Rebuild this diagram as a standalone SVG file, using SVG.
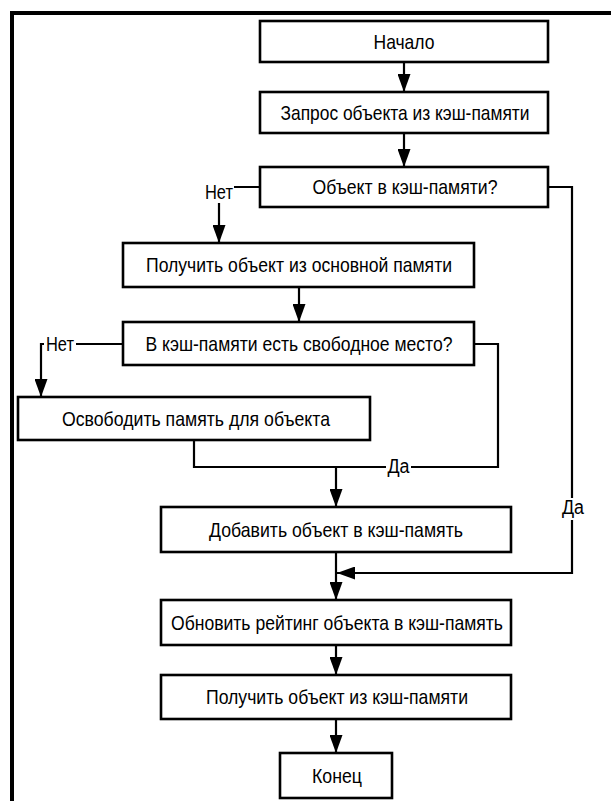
<svg xmlns="http://www.w3.org/2000/svg" width="611" height="801" viewBox="0 0 611 801">
<defs>
<style>
.box{fill:#fff;stroke:#000;stroke-width:2.6}
.t{font-family:"Liberation Sans",Arial,sans-serif;font-size:21px;fill:#000;text-anchor:middle}
.lb{font-family:"Liberation Sans",Arial,sans-serif;font-size:20px;fill:#000;text-anchor:middle}
.ln{fill:none;stroke:#000;stroke-width:2.2}
.bg{fill:#fff;stroke:none}
</style>
<marker id="ah" markerUnits="userSpaceOnUse" markerWidth="18" markerHeight="13" refX="18" refY="6.5" orient="auto">
<path d="M0,0 L18,6.5 L0,13 z" fill="#000"/>
</marker>
</defs>
<rect width="611" height="801" fill="#fff"/>
<path d="M12,801 V13 H611" fill="none" stroke="#000" stroke-width="4"/>
<g id="connectors">
<path class="ln" d="M404,62 V92" marker-end="url(#ah)"/>
<path class="ln" d="M404,133 V167" marker-end="url(#ah)"/>
<path class="ln" d="M260,187 H219 V243" marker-end="url(#ah)"/>
<path class="ln" d="M548,187 H572 V573 H337" marker-end="url(#ah)"/>
<path class="ln" d="M299,287 V322" marker-end="url(#ah)"/>
<path class="ln" d="M123,344 H41 V397" marker-end="url(#ah)"/>
<path class="ln" d="M474,344 H498 V467 H194 V440"/>
<path class="ln" d="M336,467 V507" marker-end="url(#ah)"/>
<path class="ln" d="M336,552 V600" marker-end="url(#ah)"/>
<path class="ln" d="M336,645 V675" marker-end="url(#ah)"/>
<path class="ln" d="M336,719 V753" marker-end="url(#ah)"/>
<rect class="bg" x="204" y="183" width="30" height="20"/>
<text class="lb" x="219" y="199" textLength="28" lengthAdjust="spacingAndGlyphs">Нет</text>
<rect class="bg" x="44" y="335" width="32" height="18"/>
<text class="lb" x="60" y="351" textLength="28" lengthAdjust="spacingAndGlyphs">Нет</text>
<rect class="bg" x="386" y="458" width="25" height="20"/>
<text class="lb" x="398.5" y="473" textLength="22" lengthAdjust="spacingAndGlyphs">Да</text>
<rect class="bg" x="561" y="498" width="24" height="22"/>
<text class="lb" x="573" y="514" textLength="22" lengthAdjust="spacingAndGlyphs">Да</text>
</g>
<g id="n1"><rect class="box" x="260" y="21" width="288" height="41"/><text class="t" x="404" y="49" textLength="61" lengthAdjust="spacingAndGlyphs">Начало</text></g>
<g id="n2"><rect class="box" x="260" y="92" width="288" height="41"/><text class="t" x="405" y="120" textLength="249" lengthAdjust="spacingAndGlyphs">Запрос объекта из кэш-памяти</text></g>
<g id="n3"><rect class="box" x="260" y="167" width="288" height="40"/><text class="t" x="405" y="194" textLength="185" lengthAdjust="spacingAndGlyphs">Объект в кэш-памяти?</text></g>
<g id="n4"><rect class="box" x="123" y="243" width="351" height="44"/><text class="t" x="299" y="272" textLength="306" lengthAdjust="spacingAndGlyphs">Получить объект из основной памяти</text></g>
<g id="n5"><rect class="box" x="123" y="322" width="351" height="43"/><text class="t" x="299" y="351" textLength="307" lengthAdjust="spacingAndGlyphs">В кэш-памяти есть свободное место?</text></g>
<g id="n6"><rect class="box" x="18" y="397" width="352" height="43"/><text class="t" x="196" y="426" textLength="268" lengthAdjust="spacingAndGlyphs">Освободить память для объекта</text></g>
<g id="n7"><rect class="box" x="161" y="507" width="350" height="45"/><text class="t" x="336" y="537" textLength="254" lengthAdjust="spacingAndGlyphs">Добавить объект в кэш-память</text></g>
<g id="n8"><rect class="box" x="161" y="600" width="350" height="45"/><text class="t" x="337" y="630" textLength="332" lengthAdjust="spacingAndGlyphs">Обновить рейтинг объекта в кэш-память</text></g>
<g id="n9"><rect class="box" x="161" y="675" width="350" height="44"/><text class="t" x="337" y="704" textLength="262" lengthAdjust="spacingAndGlyphs">Получить объект из кэш-памяти</text></g>
<g id="n10"><rect class="box" x="280" y="753" width="112" height="45"/><text class="t" x="337" y="783" textLength="50" lengthAdjust="spacingAndGlyphs">Конец</text></g>
</svg>
